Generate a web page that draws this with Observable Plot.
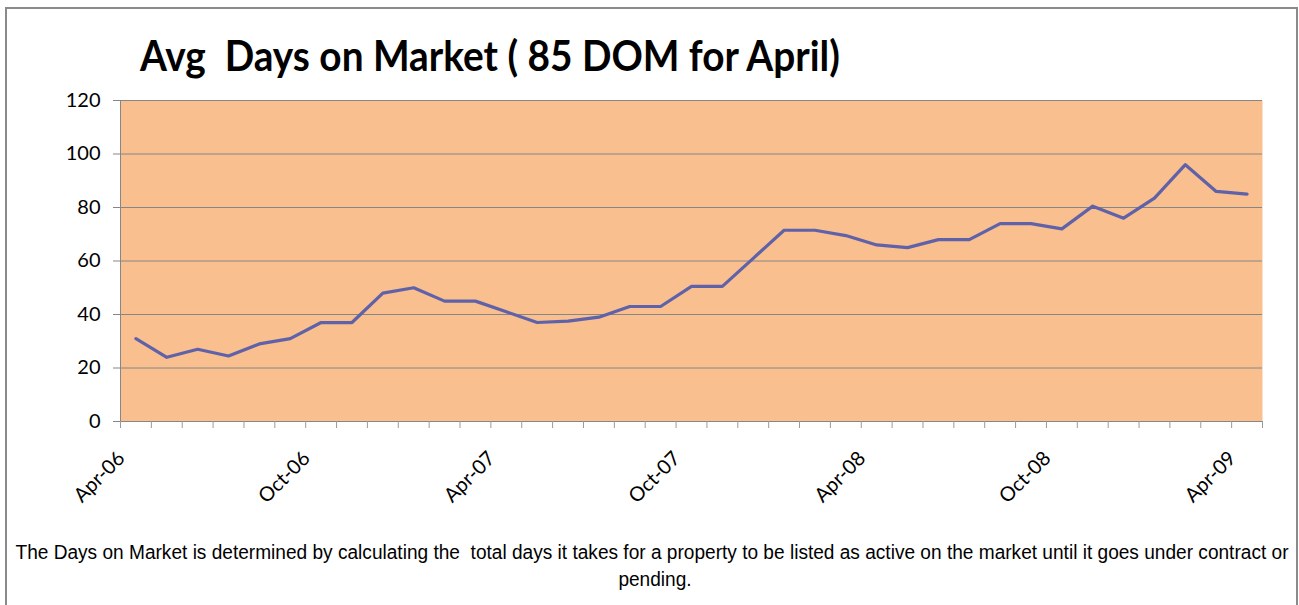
<!DOCTYPE html>
<html>
<head>
<meta charset="utf-8">
<script src="https://cdn.jsdelivr.net/npm/d3@7"></script>
<script src="https://cdn.jsdelivr.net/npm/@observablehq/plot@0.6"></script>
<style>
  body { margin: 0; background: #fff; }
  #wrap { position: relative; width: 1299px; height: 605px; overflow: hidden; background: #fff; }
  #border { position: absolute; left: 5px; top: 7px; width: 1293px; height: 610px; border: 2px solid #8a8a8a; box-sizing: border-box; }
  #title { position: absolute; left: 140px; top: 34px; font-family: Lato, sans-serif; font-weight: bold; font-size: 42px; line-height: 42px; white-space: pre; transform-origin: left center; color: #000; }
  #chart { position: absolute; left: 0; top: 85px; }
  .cap { position: absolute; font-family: "Liberation Sans", Arial, sans-serif; font-size: 20px; line-height: 20px; white-space: pre; color: #000; transform-origin: center center; }
</style>
</head>
<body>
<div id="wrap">
  <div id="border"></div>
  <div id="title"></div>
  <div id="chart"></div>
  <div class="cap" id="cap1"></div>
  <div class="cap" id="cap2"></div>
</div>
<script>
const titleText = "Avg  Days on Market ( 85 DOM for April)";
const captionLines = [
  "The Days on Market is determined by calculating the  total days it takes for a property to be listed as active on the market until it goes under contract or",
  "pending."
];
const months = ["Apr-06","May-06","Jun-06","Jul-06","Aug-06","Sep-06","Oct-06","Nov-06","Dec-06","Jan-07","Feb-07","Mar-07",
  "Apr-07","May-07","Jun-07","Jul-07","Aug-07","Sep-07","Oct-07","Nov-07","Dec-07","Jan-08","Feb-08","Mar-08",
  "Apr-08","May-08","Jun-08","Jul-08","Aug-08","Sep-08","Oct-08","Nov-08","Dec-08","Jan-09","Feb-09","Mar-09","Apr-09"];
const dom = [31, 24, 27, 24.5, 29, 31, 37, 37, 48, 50, 45, 45,
  41, 37, 37.5, 39, 43, 43, 50.5, 50.5, 61, 71.5, 71.5, 69.5,
  66, 65, 68, 68, 74, 74, 72, 80.5, 76, 83.5, 96, 86, 85];
const labelIdx = [0, 6, 12, 18, 24, 30, 36];
const yTicks = [0, 20, 40, 60, 80, 100, 120];

const data = months.map((m, i) => ({i, m, v: dom[i]}));
const boundaries = d3.range(months.length + 1).map(k => k - 0.5);

const canvas = document.createElement("canvas");
const ctx = canvas.getContext("2d");
function measure(text, font) { ctx.font = font; return ctx.measureText(text).width; }

// title
const titleEl = document.getElementById("title");
titleEl.textContent = titleText;
const tw = measure(titleText, "bold 42px Lato");
titleEl.style.transform = `scaleX(${702 / tw})`;

// caption
const cw = measure(captionLines[0], "20px 'Liberation Sans'");
const cs = 1273 / cw;
const cap1 = document.getElementById("cap1");
const cap2 = document.getElementById("cap2");
cap1.textContent = captionLines[0];
cap2.textContent = captionLines[1];
cap1.style.left = "651.5px"; cap1.style.top = "542px";
cap2.style.left = "655px"; cap2.style.top = "569px";
cap1.style.transform = `translateX(-50%) scaleX(${cs})`;
cap2.style.transform = `translateX(-50%) scaleX(${cs})`;

const gray = "#868686";
const chart = Plot.plot({
  width: 1299,
  height: 430,
  marginLeft: 120,
  marginRight: 37,
  marginTop: 15,
  marginBottom: 94,
  style: {fontFamily: "Lato, sans-serif", fontSize: "20px", color: "#000", background: "transparent", overflow: "visible"},
  x: {type: "linear", domain: [-0.5, months.length - 0.5]},
  y: {domain: [0, 120]},
  marks: [
    Plot.frame({fill: "#F9BF8F", stroke: null}),
    Plot.gridY(yTicks, {stroke: gray, strokeOpacity: 1, strokeWidth: 1}),
    Plot.axisY({ticks: yTicks, tickSize: 7, tickPadding: 13, stroke: gray, label: null, fontSize: 20}),
    Plot.ruleX([-0.5], {stroke: gray}),
    Plot.ruleY([0], {stroke: gray}),
    Plot.axisX({ticks: boundaries, tickSize: 7, tickFormat: () => "", label: null, stroke: "#9a9a9a"}),
    Plot.line(data, {x: "i", y: "v", stroke: "#5F62A9", strokeWidth: 3.2}),
    Plot.text(labelIdx, {x: d => d, text: d => months[d], frameAnchor: "bottom", rotate: -45, textAnchor: "end", lineAnchor: "bottom", dx: -10, dy: 38, fontSize: 20, fill: "#000"})
  ]
});
document.getElementById("chart").appendChild(chart);
</script>
</body>
</html>
